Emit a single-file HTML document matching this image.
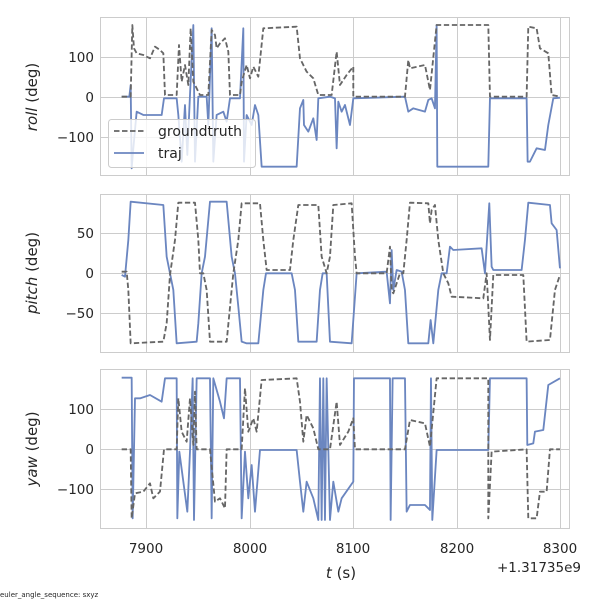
<!DOCTYPE html>
<html><head><meta charset="utf-8"><style>
body{margin:0;background:#fff;}
svg text{font-family:"DejaVu Sans","Liberation Sans",sans-serif;fill:#262626;}
</style></head><body>
<svg width="600" height="600" viewBox="0 0 600 600" xmlns="http://www.w3.org/2000/svg">
<g stroke="#cccccc" stroke-width="1" fill="none">
<rect x="100.5" y="17.5" width="469" height="158"/>
<rect x="100.5" y="194.5" width="469" height="158"/>
<rect x="100.5" y="369.5" width="469" height="159"/>
<path d="M146.5 18V175M250.5 18V175M353.5 18V175M457.5 18V175M560.5 18V175
M146.5 195V352M250.5 195V352M353.5 195V352M457.5 195V352M560.5 195V352
M146.5 370V528M250.5 370V528M353.5 370V528M457.5 370V528M560.5 370V528
M101 57.5H569M101 97.5H569M101 137.5H569
M101 233.5H569M101 273.5H569M101 313.5H569
M101 409.5H569M101 449.5H569M101 489.5H569"/>
</g>
<g transform="translate(100,15) scale(0.3333)" fill="none" stroke-width="5.5" stroke-linejoin="round">
<polyline stroke="#6b86c0" points="65,245 88,245 92,210 95,460 100,400 110,290 130,300 160,300 185,300 192,250 230,250 235,300 245,440 255,270 262,420 270,240 280,30 285,440 295,245 320,245 325,330 335,40 340,440 350,300 370,290 380,320 390,250 420,250 430,40 432,440 440,300 455,330 465,270 475,300 485,455 590,455 600,280 610,255 612,330 625,350 640,310 650,375 655,250 690,245 705,250 710,400 715,260 725,290 735,270 750,330 760,250 915,245 925,290 940,280 975,290 985,255 995,250 1005,280 1010,30 1012,455 1165,455 1170,250 1280,250 1283,440 1290,440 1310,400 1335,405 1345,330 1360,250 1380,248"/>
<polyline stroke="#666" stroke-dasharray="16,8" points="65,245 92,245 97,30 102,100 110,115 130,120 150,130 165,95 180,105 190,115 195,240 230,240 237,90 245,200 255,150 265,210 272,40 280,200 300,240 325,240 335,45 345,60 350,100 360,85 375,70 385,110 390,240 420,240 425,200 440,150 450,190 460,155 475,185 490,40 590,35 600,130 620,170 640,190 655,240 695,240 710,110 720,210 740,180 760,155 760,245 915,245 925,135 930,160 975,150 990,225 1010,30 1165,30 1170,245 1280,245 1285,35 1310,40 1320,100 1345,115 1355,240 1380,245"/>
</g>
<rect x="108.5" y="119.5" width="147" height="48" rx="3" fill="#fff" fill-opacity="0.8" stroke="#cccccc"/>
<line x1="114" x2="144" y1="131" y2="131" stroke="#666" stroke-width="1.8" stroke-dasharray="5.5,2.5"/>
<line x1="114" x2="144" y1="153" y2="153" stroke="#6b86c0" stroke-width="1.8"/>
<text x="158" y="136" font-size="14">groundtruth</text>
<text x="158" y="158" font-size="14">traj</text>
<g transform="translate(100,190) scale(0.3333)" fill="none" stroke-width="5.5" stroke-linejoin="round">
<polyline stroke="#6b86c0" points="65,255 75,260 85,150 92,35 190,45 200,200 210,250 220,300 230,460 290,455 295,400 305,250 315,200 330,35 380,35 395,200 405,250 415,350 425,455 440,460 475,460 490,300 498,250 575,250 585,300 595,455 650,455 660,300 668,250 680,250 690,455 755,460 770,250 860,245 870,340 875,180 880,300 890,240 905,245 915,300 925,460 985,460 992,390 1000,460 1015,300 1025,250 1040,250 1050,170 1060,180 1145,175 1155,250 1168,40 1175,230 1180,240 1265,240 1275,150 1285,38 1350,45 1355,100 1370,120 1380,235"/>
<polyline stroke="#666" stroke-dasharray="16,8" points="65,245 80,245 85,300 92,460 190,455 200,400 210,255 225,150 235,38 285,38 295,150 300,250 310,250 320,300 330,455 380,455 395,300 400,250 415,150 425,40 480,40 490,150 500,240 570,240 580,150 595,45 655,45 665,200 680,250 690,200 700,45 755,40 765,200 770,250 860,250 870,170 875,300 880,310 900,250 910,250 920,150 930,38 985,40 990,100 995,60 1005,45 1015,150 1030,250 1045,280 1055,320 1150,325 1160,250 1170,450 1180,255 1270,255 1280,455 1350,450 1365,300 1380,255"/>
</g>
<g transform="translate(100,365) scale(0.3333)" fill="none" stroke-width="5.5" stroke-linejoin="round">
<polyline stroke="#6b86c0" points="65,38 95,38 98,460 105,100 120,100 150,90 185,110 195,40 230,40 232,460 238,260 250,350 262,440 270,260 278,40 282,465 290,40 330,40 335,460 340,40 360,110 372,160 380,40 420,40 425,460 435,260 445,400 455,300 465,440 480,255 590,255 600,350 610,440 620,350 640,400 655,465 660,40 665,465 670,40 675,465 680,40 690,465 700,350 715,440 725,400 760,350 762,40 870,40 872,465 878,40 915,40 920,440 930,420 975,420 990,435 993,40 997,465 1010,255 1165,255 1170,40 1280,40 1282,240 1300,235 1305,200 1330,195 1345,60 1380,40"/>
<polyline stroke="#666" stroke-dasharray="16,8" points="65,253 92,253 95,460 105,385 130,380 150,355 160,400 180,380 192,253 230,253 235,100 245,200 260,230 270,100 280,240 285,80 290,253 330,253 345,410 360,400 375,430 380,253 425,253 435,70 445,200 460,160 470,200 485,45 590,40 600,110 610,230 620,150 640,190 655,253 690,253 710,110 720,240 745,200 760,160 765,253 915,253 930,165 975,175 990,245 1010,40 1165,40 1165,460 1175,260 1280,253 1285,460 1310,460 1320,380 1340,380 1350,253 1380,253"/>
</g>
<g font-size="13.5" text-anchor="end">
<text x="94" y="62">100</text><text x="94" y="102">0</text><text x="94" y="142">−100</text>
<text x="94" y="238">50</text><text x="94" y="278">0</text><text x="94" y="318">−50</text>
<text x="94" y="414">100</text><text x="94" y="454">0</text><text x="94" y="494">−100</text>
</g>
<g font-size="15" text-anchor="middle">
<text transform="translate(37,97) rotate(-90)"><tspan font-style="italic">roll</tspan> (deg)</text>
<text transform="translate(37,273) rotate(-90)"><tspan font-style="italic">pitch</tspan> (deg)</text>
<text transform="translate(37,449) rotate(-90)"><tspan font-style="italic">yaw</tspan> (deg)</text>
</g>
<g font-size="13.5" text-anchor="middle">
<text x="146" y="553">7900</text><text x="250" y="553">8000</text><text x="353" y="553">8100</text><text x="457" y="553">8200</text><text x="560" y="553">8300</text>
</g>
<text x="341" y="578" font-size="15" text-anchor="middle"><tspan font-style="italic">t</tspan> (s)</text>
<text x="581" y="572" font-size="13.5" text-anchor="end">+1.31735e9</text>
<text x="0" y="597" font-size="7">euler_angle_sequence: sxyz</text>
</svg>
</body></html>
